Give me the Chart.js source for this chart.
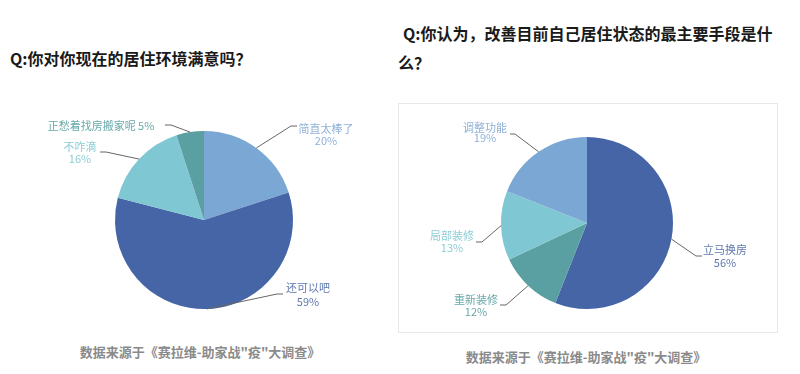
<!DOCTYPE html>
<html><head><meta charset="utf-8">
<script src="https://cdn.jsdelivr.net/npm/chart.js@4/dist/chart.umd.min.js"></script>
<style>
html,body{margin:0;padding:0;background:#fff;width:800px;height:374px;overflow:hidden;font-family:"Noto Sans CJK SC","Noto Sans",sans-serif;}
.abs{position:absolute;white-space:nowrap;}
.title{font-weight:bold;color:#1a1a1a;}
.foot{font-weight:bold;color:#8a8a8a;font-size:13px;transform:translateX(-50%);}
#box{position:absolute;left:398px;top:103px;width:378px;height:228px;border:1px solid #e8e8e8;}
</style></head>
<body>
<div class="abs title" style="left:10px;top:47px;font-size:16px;line-height:22px;">Q:你对你现在的居住环境满意吗？</div>
<div class="abs title" style="left:403px;top:22px;font-size:16px;line-height:22px;">Q:你认为，改善目前自己居住状态的最主要手段是什</div>
<div class="abs title" style="left:398px;top:51px;font-size:16px;line-height:22px;">么？</div>
<div id="box"></div>
<div class="abs" style="left:0;top:100px;width:400px;height:240px;"><canvas id="c1" width="400" height="240"></canvas></div>
<div class="abs" style="left:400px;top:100px;width:400px;height:240px;"><canvas id="c2" width="400" height="240"></canvas></div>
<div class="abs foot" style="left:200px;top:342px;">数据来源于《赛拉维-助家战"疫"大调查》</div>
<div class="abs foot" style="left:586px;top:347px;">数据来源于《赛拉维-助家战"疫"大调查》</div>
<script>
// ---- data ----
const leftCategories = ["简直太棒了", "还可以吧", "不咋滴", "正愁着找房搬家呢"];
const leftValues = [20, 59, 16, 5];
const rightCategories = ["立马换房", "重新装修", "局部装修", "调整功能"];
const rightValues = [56, 12, 13, 19];

// ---- styles ----
const C_LB = "#7ba7d4", C_DB = "#4565a6", C_LT = "#7fc7d2", C_TL = "#5a9fa1";
const leftColors = [C_LB, C_DB, C_LT, C_TL];
const rightColors = [C_DB, C_TL, C_LT, C_LB];
const leftLabelColors = ["#8fb1d8", "#5f77ad", "#8dcdd6", "#6aa9aa"];
const rightLabelColors = ["#5f77ad", "#6aa9aa", "#8dcdd6", "#8fb1d8"];

// label layout (canvas coordinates): elbow, end, text center x, text y lines, singleLine
const leftLayout = [
  {elbow:[291,26], end:[297,26], tx:326, ty:[29,41]},
  {elbow:[277,194], end:[283,194], tx:308, ty:[188,202]},
  {elbow:[106,52], end:[100,52], tx:80, ty:[47,59]},
  {elbow:[171,25], end:[165,25], tx:101, ty:[26], single:true}
];
const rightLayout = [
  {elbow:[296,156], end:[302,156], tx:325, ty:[150,163]},
  {elbow:[106,205], end:[100,205], tx:76, ty:[200,212]},
  {elbow:[82,142], end:[76,142], tx:52, ty:[136,148]},
  {elbow:[115,34], end:[110,34], tx:85, ty:[28,38]}
];

function labelPlugin(cats, layout, lcolors){
  return {
    id:'leaderLabels',
    afterDraw(chart){
      const ctx = chart.ctx;
      const meta = chart.getDatasetMeta(0);
      const vals = chart.data.datasets[0].data;
      const total = vals.reduce((a,b)=>a+b,0);
      meta.data.forEach((arc,i)=>{
        const p = arc.getProps(['x','y','startAngle','endAngle','outerRadius'], true);
        const mid = (p.startAngle + p.endAngle)/2;
        const sx = p.x + Math.cos(mid)*p.outerRadius;
        const sy = p.y + Math.sin(mid)*p.outerRadius;
        const L = layout[i];
        ctx.save();
        ctx.strokeStyle = "#666666";
        ctx.lineWidth = 1;
        ctx.beginPath();
        ctx.moveTo(sx, sy);
        ctx.lineTo(L.elbow[0], L.elbow[1]);
        ctx.lineTo(L.end[0], L.end[1]);
        ctx.stroke();
        ctx.fillStyle = lcolors[i];
        ctx.font = '11px "Noto Sans CJK SC", "Noto Sans", sans-serif';
        ctx.textAlign = 'center';
        ctx.textBaseline = 'middle';
        const pct = Math.round(vals[i]/total*100) + '%';
        if (L.single){
          ctx.fillText(cats[i] + ' ' + pct, L.tx, L.ty[0]);
        } else {
          ctx.fillText(cats[i], L.tx, L.ty[0]);
          ctx.fillText(pct, L.tx, L.ty[1]);
        }
        ctx.restore();
      });
    }
  };
}

function makePie(id, cats, vals, colors, padding, layout, lcolors){
  new Chart(document.getElementById(id), {
    type:'pie',
    data:{labels:cats, datasets:[{data:vals, backgroundColor:colors, borderWidth:0}]},
    options:{
      responsive:false, animation:false,
      layout:{padding:padding},
      plugins:{legend:{display:false}, tooltip:{enabled:false}}
    },
    plugins:[labelPlugin(cats, layout, lcolors)]
  });
}

makePie('c1', leftCategories, leftValues, leftColors, {left:115,right:107,top:31,bottom:31}, leftLayout, leftLabelColors);
makePie('c2', rightCategories, rightValues, rightColors, {left:101,right:127,top:37,bottom:31}, rightLayout, rightLabelColors);
</script>
</body></html>
